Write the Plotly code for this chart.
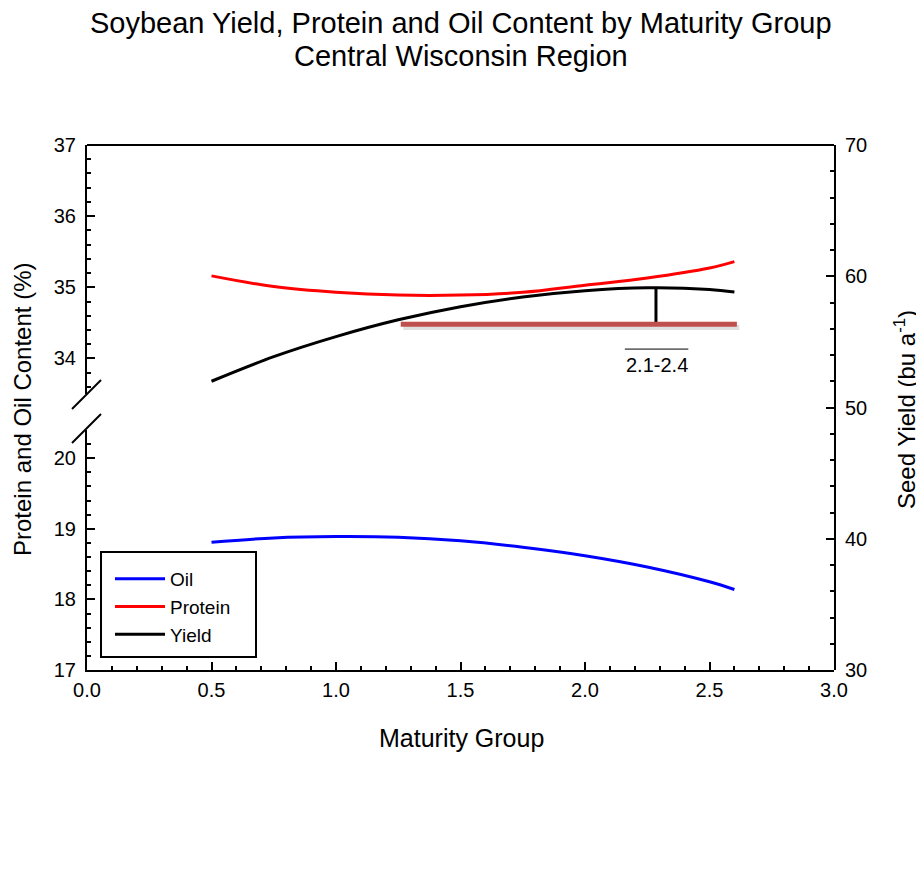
import plotly.graph_objects as go

# ---------------- data ----------------
maturity_group = [0.5, 0.75, 1.0, 1.25, 1.5, 1.75, 2.0, 2.25, 2.5, 2.6]
oil_pct = [18.81, 18.87, 18.89, 18.88, 18.83, 18.74, 18.62, 18.46, 18.25, 18.14]
protein_pct = [35.16, 35.01, 34.93, 34.89, 34.89, 34.93, 35.03, 35.13, 35.27, 35.36]
seed_yield = [52.0, 53.87, 55.40, 56.68, 57.68, 58.42, 58.90, 59.12, 59.00, 58.80]

optimum_x = [1.26, 2.61]        # extent of the near-optimum yield band
optimum_yield = 56.35           # bu/a level of the band
peak_x = 2.285                  # maturity group with max yield
peak_yield = 59.12
range_label = "2.1-2.4"
range_label_x = [2.16, 2.415]
range_label_y = 53.25

x_ticks = [0.0, 0.5, 1.0, 1.5, 2.0, 2.5, 3.0]
low_ticks = [17, 18, 19, 20]
high_ticks = [34, 35, 36, 37]
yield_ticks = [30, 40, 50, 60, 70]

FONT = "Arial, 'Liberation Sans', sans-serif"

# page geometry: the html body adds an 8px offset
OFF = 8
W, H = 924 - OFF, 876 - OFF
PL, PR, PT, PB = 87, 834, 145, 670      # plot box in page pixels
L, T = PL - OFF, PT - OFF
PW, PH = PR - PL, PB - PT
R = W - L - PW
B = H - T - PH


def px_x(p):
    return (p - PL) / PW


def px_y(p):
    return (PB - p) / PH


fig = go.Figure()
fig.add_trace(go.Scatter(x=maturity_group, y=oil_pct, name="Oil", mode="lines",
                         line=dict(color="#0000FF", width=3, shape="spline"), yaxis="y"))
fig.add_trace(go.Scatter(x=maturity_group, y=protein_pct, name="Protein", mode="lines",
                         line=dict(color="#FF0000", width=3, shape="spline"), yaxis="y2"))
fig.add_trace(go.Scatter(x=maturity_group, y=seed_yield, name="Yield", mode="lines",
                         line=dict(color="#000000", width=3, shape="spline"), yaxis="y3"))
# shadow of optimum band
fig.add_trace(go.Scatter(x=[v + 0.01 for v in optimum_x], y=[optimum_yield - 0.25] * 2, mode="lines",
                         line=dict(color="rgba(0,0,0,0.12)", width=5), yaxis="y3",
                         showlegend=False, hoverinfo="skip"))
fig.add_trace(go.Scatter(x=[peak_x, peak_x], y=[peak_yield, optimum_yield], mode="lines",
                         line=dict(color="#000000", width=3), yaxis="y3",
                         showlegend=False, hoverinfo="skip"))
fig.add_trace(go.Scatter(x=optimum_x, y=[optimum_yield] * 2, mode="lines",
                         line=dict(color="#C0504D", width=5), yaxis="y3",
                         showlegend=False, hoverinfo="skip"))

axis_common = dict(showline=True, linecolor="black", linewidth=2, ticks="inside", ticklen=8,
                   tickwidth=2, tickcolor="black", showgrid=False, zeroline=False,
                   tickfont=dict(size=20, color="black", family=FONT))


def minor(d):
    return dict(ticks="inside", ticklen=4, tickwidth=1.5, tickcolor="black", dtick=d, showgrid=False)


low_top_px = 430
high_bot_px = 394

fig.update_layout(
    width=W, height=H,
    margin=dict(l=L, r=R, t=T, b=B),
    paper_bgcolor="white", plot_bgcolor="rgba(0,0,0,0)",
    font=dict(family=FONT, color="black"),
    xaxis=dict(axis_common, domain=[0, 1], range=[0, 3], tickvals=x_ticks, tickformat=".1f",
               minor=minor(0.1), anchor="y", ticklabelstandoff=1),
    yaxis=dict(axis_common, domain=[0, px_y(low_top_px)], range=[17, 20.4], tickvals=low_ticks,
               minor=minor(0.2), anchor="x", ticklabelstandoff=5),
    yaxis2=dict(axis_common, domain=[px_y(high_bot_px), 1], range=[33.5, 37], tickvals=high_ticks,
                minor=minor(0.2), anchor="x", ticklabelstandoff=5),
    yaxis3=dict(axis_common, domain=[0, 1], range=[30, 70], tickvals=yield_ticks,
                minor=minor(2), anchor="x", side="right", ticklabelstandoff=5),
    showlegend=True,
    legend=dict(x=px_x(110), y=px_y(560), xanchor="left", yanchor="top",
                bgcolor="rgba(0,0,0,0)", borderwidth=0,
                font=dict(size=19, family=FONT, color="black"), itemwidth=50,
                tracegroupgap=0),
)

shapes = [
    # top frame line
    dict(type="line", xref="paper", yref="paper", x0=0, x1=1, y0=1, y1=1,
         line=dict(color="black", width=2)),
    # axis break marks
    dict(type="line", xref="paper", yref="paper", x0=px_x(72), y0=px_y(409), x1=px_x(101), y1=px_y(380),
         line=dict(color="black", width=2)),
    dict(type="line", xref="paper", yref="paper", x0=px_x(72), y0=px_y(443), x1=px_x(101), y1=px_y(414),
         line=dict(color="black", width=2)),
    # legend box
    dict(type="rect", xref="paper", yref="paper", x0=px_x(101), x1=px_x(256), y0=px_y(657), y1=px_y(552),
         line=dict(color="black", width=2), fillcolor="rgba(0,0,0,0)"),
    # overline of range label
    dict(type="line", xref="x", yref="y3", x0=range_label_x[0], x1=range_label_x[1],
         y0=range_label_y + 1.2, y1=range_label_y + 1.2, line=dict(color="black", width=1)),
]
fig.update_layout(shapes=shapes)

annotations = [
    dict(text="Soybean Yield, Protein and Oil Content by Maturity Group", xref="paper", yref="paper",
         x=px_x(461), y=px_y(23), showarrow=False, font=dict(size=29, family=FONT, color="black"),
         xanchor="center", yanchor="middle"),
    dict(text="Central Wisconsin Region", xref="paper", yref="paper",
         x=px_x(461), y=px_y(56), showarrow=False, font=dict(size=29, family=FONT, color="black"),
         xanchor="center", yanchor="middle"),
    dict(text="Maturity Group", xref="paper", yref="paper", x=px_x(461), y=px_y(738),
         showarrow=False, font=dict(size=25, family=FONT, color="black"),
         xanchor="center", yanchor="middle"),
    dict(text="Protein and Oil Content (%)", xref="paper", yref="paper", x=px_x(22), y=px_y(410),
         showarrow=False, textangle=-90, font=dict(size=24, family=FONT, color="black"),
         xanchor="center", yanchor="middle"),
    dict(text="Seed Yield (bu a<sup>-1</sup>)", xref="paper", yref="paper", x=px_x(905), y=px_y(410),
         showarrow=False, textangle=-90, font=dict(size=24, family=FONT, color="black"),
         xanchor="center", yanchor="middle"),
    dict(text=range_label, xref="x", yref="y3", x=sum(range_label_x) / 2, y=range_label_y,
         showarrow=False, font=dict(size=20, family=FONT, color="black"),
         xanchor="center", yanchor="middle"),
]
fig.update_layout(annotations=annotations)

fig.write_html("out.html")
